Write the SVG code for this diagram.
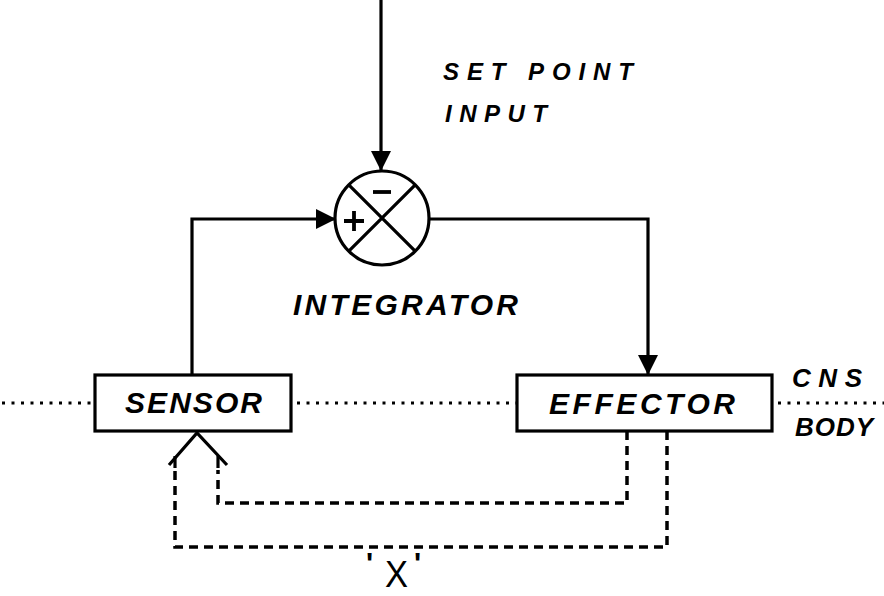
<svg xmlns="http://www.w3.org/2000/svg" width="884" height="596" viewBox="0 0 884 596">
  <style>
    .bg { fill: #ffffff; }
    .line { fill: none; stroke: #000; stroke-width: 3.2; stroke-linecap: butt; stroke-linejoin: miter; }
    .dashed { fill: none; stroke: #000; stroke-width: 3.5; stroke-dasharray: 9 6; }
    .dotted { fill: none; stroke: #000; stroke-width: 3; stroke-dasharray: 3 6.5; }
    .box { fill: #fff; stroke: #000; stroke-width: 3.2; }
    .lbl { font-family: "Liberation Sans", Arial, sans-serif; font-weight: bold; font-style: italic; fill: #000; }
    .big { font-size: 30px; }
    .mid { font-size: 26px; }
    .small { font-size: 24px; }
    .sign { fill: none; stroke: #000; stroke-width: 3.8; }
  </style>
  <defs>
    <marker id="arrow" markerUnits="userSpaceOnUse" markerWidth="20" markerHeight="20" refX="20" refY="10" orient="auto">
      <path d="M0,0 L20,10 L0,20 z" fill="#000"/>
    </marker>
  </defs>

  <rect class="bg" x="0" y="0" width="884" height="596"/>

  <!-- CNS / body boundary -->
  <g id="boundary">
    <path class="dotted" d="M2 403 H95 M297 403 H517 M778 403 H884"/>
  </g>

  <!-- signal paths -->
  <g id="connectors">
    <path class="line" d="M381 0 V171" marker-end="url(#arrow)"/>
    <path class="line" d="M192 375 V219 H336" marker-end="url(#arrow)"/>
    <path class="line" d="M428 219 H648 V375" marker-end="url(#arrow)"/>
    <!-- feedback through the body -->
    <path class="dashed" d="M627 431 V503 H218 V470"/>
    <path class="dashed" d="M667 431 V547 H175 V470"/>
    <!-- receptor fork under the sensor -->
    <path class="line" d="M169 465 L197 433 L227 465"/>
    <path class="line" d="M175 456 V468 M218 456 V468"/>
  </g>

  <g id="setpoint-label">
    <text class="lbl small" x="443" y="80" textLength="190" lengthAdjust="spacing">SET POINT</text>
    <text class="lbl small" x="445" y="122" textLength="102" lengthAdjust="spacing">INPUT</text>
  </g>

  <g id="integrator">
    <circle cx="382" cy="218" r="47" fill="#fff" stroke="#000" stroke-width="3.2"/>
    <path class="line" d="M348.8 184.8 L415.2 251.2 M415.2 184.8 L348.8 251.2"/>
    <path class="sign" d="M373 192 H391"/>
    <path class="sign" d="M344 221 H364 M354 211 V231"/>
    <text class="lbl big" x="293" y="315" textLength="225" lengthAdjust="spacing">INTEGRATOR</text>
  </g>

  <g id="sensor">
    <rect class="box" x="95" y="375" width="196" height="56"/>
    <text class="lbl big" x="125" y="413" textLength="137" lengthAdjust="spacing">SENSOR</text>
  </g>

  <g id="effector">
    <rect class="box" x="517" y="375" width="255" height="56"/>
    <text class="lbl big" x="549" y="414" textLength="186" lengthAdjust="spacing">EFFECTOR</text>
  </g>

  <g id="region-labels">
    <text class="lbl mid" x="792" y="387" textLength="70" lengthAdjust="spacing">CNS</text>
    <text class="lbl mid" x="795" y="436" textLength="78" lengthAdjust="spacing">BODY</text>
  </g>

  <g id="x-label">
    <text font-family="Liberation Sans, Arial, sans-serif" fill="#000"><tspan x="366" y="573" font-size="30" font-weight="bold">'</tspan><tspan x="385" y="587" font-size="36" textLength="23" lengthAdjust="spacingAndGlyphs">X</tspan><tspan x="414" y="573" font-size="30" font-weight="bold">'</tspan></text>
  </g>
</svg>
